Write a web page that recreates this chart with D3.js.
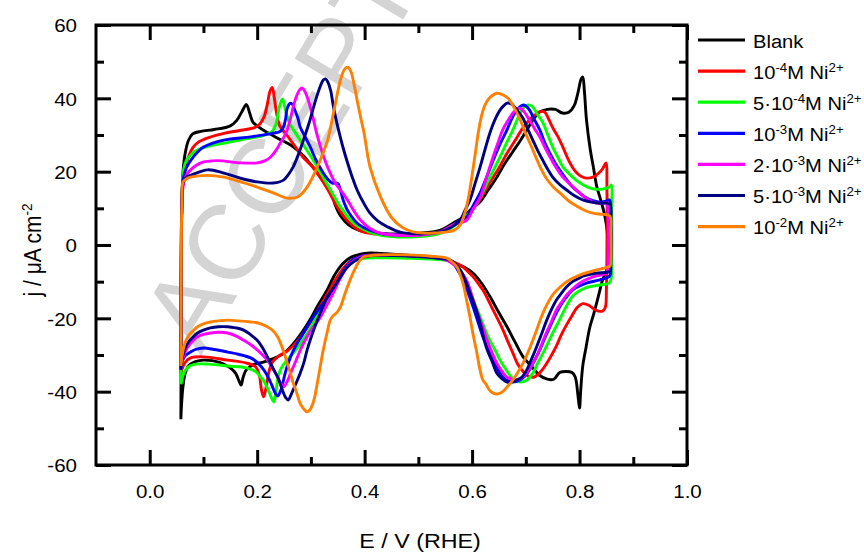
<!DOCTYPE html>
<html>
<head>
<meta charset="utf-8">
<script src="https://cdn.jsdelivr.net/npm/d3@7/dist/d3.min.js"></script>
<style>
  html, body { margin: 0; padding: 0; background: #fff; }
  svg { display: block; }
  text { font-family: "Liberation Sans", Arial, sans-serif; fill: #000; }
</style>
</head>
<body>
<svg id="chart" width="864" height="553"></svg>
<script>
// Cyclic voltammograms, [E (V vs RHE), j (µA cm^-2)], one closed loop per curve:
// anodic sweep 0.06 -> 0.86 V, then cathodic sweep back to 0.06 V.
const blank = [[0.058,-47.5],[0.0585,-25],[0.059,0],[0.060,12],[0.062,20],[0.066,25],[0.072,28.5],[0.08,30.3],[0.095,31],[0.12,31.5],[0.15,32.5],[0.162,34],[0.172,36.5],[0.180,38.3],[0.186,36],[0.192,33.5],[0.20,32.5],[0.215,31],[0.24,29],[0.265,27],[0.285,24.5],[0.305,21],[0.325,17],[0.338,14.5],[0.345,11],[0.355,8],[0.37,5.5],[0.39,4],[0.42,3.2],[0.46,3],[0.50,3.2],[0.54,4],[0.565,6],[0.583,7.6],[0.60,10],[0.615,11.8],[0.63,15],[0.646,18.5],[0.66,22],[0.676,25.5],[0.69,28.5],[0.702,31.4],[0.715,34.5],[0.726,36.3],[0.74,37],[0.755,37],[0.768,36],[0.78,36.2],[0.79,38],[0.797,41.5],[0.803,45.3],[0.806,45.8],[0.809,42],[0.813,34],[0.82,26],[0.826,21],[0.832,16],[0.84,12],[0.847,8],[0.852,3],[0.854,-3],[0.85,-7],[0.843,-9.5],[0.835,-14],[0.826,-19],[0.819,-22.5],[0.812,-28],[0.806,-33],[0.802,-40],[0.80,-44.5],[0.797,-41],[0.792,-36],[0.786,-34.8],[0.775,-34.5],[0.763,-34.8],[0.752,-36.6],[0.74,-36.6],[0.726,-35.6],[0.71,-33],[0.695,-30.5],[0.68,-26.5],[0.665,-22.3],[0.65,-18.5],[0.633,-14],[0.618,-10.5],[0.602,-7.7],[0.585,-6],[0.572,-5.3],[0.55,-4],[0.52,-3.3],[0.48,-2.8],[0.44,-2.4],[0.41,-2.2],[0.39,-2.6],[0.375,-3.3],[0.36,-5],[0.345,-8],[0.33,-12.3],[0.313,-16.5],[0.30,-20],[0.285,-23.5],[0.267,-27],[0.25,-29.5],[0.23,-31],[0.21,-32],[0.195,-32.5],[0.18,-34],[0.174,-36],[0.170,-38.2],[0.166,-37],[0.16,-35],[0.15,-33.5],[0.13,-32],[0.10,-31.4],[0.085,-31.8],[0.073,-32.8],[0.066,-35],[0.062,-38.5],[0.059,-44],[0.058,-47.5]];

const ni1e4 = [[0.058,-35],[0.0585,-10],[0.059,5],[0.060,13],[0.062,17.5],[0.066,21],[0.072,24],[0.08,26.5],[0.09,28],[0.11,29.3],[0.14,30.5],[0.17,31.3],[0.195,32],[0.205,33],[0.213,35],[0.219,38.5],[0.224,42],[0.228,43],[0.232,40],[0.236,36],[0.242,32.5],[0.255,30],[0.27,27],[0.285,24],[0.305,21],[0.33,15.5],[0.349,10.4],[0.367,6.8],[0.39,4],[0.42,3],[0.46,2.7],[0.50,2.9],[0.54,3.6],[0.565,5.5],[0.58,7],[0.596,8.7],[0.615,12.5],[0.633,17],[0.65,21],[0.665,25],[0.68,28.5],[0.695,32],[0.713,35],[0.726,36.3],[0.735,36.3],[0.742,34.5],[0.750,32],[0.76,29.5],[0.769,26.7],[0.78,23],[0.79,20.5],[0.80,19],[0.81,18.3],[0.825,18.5],[0.835,19.5],[0.843,20.8],[0.849,22.4],[0.851,15],[0.851,0],[0.850,-12],[0.848,-17],[0.843,-18],[0.83,-17.8],[0.818,-16.5],[0.806,-16],[0.796,-17],[0.785,-19.5],[0.775,-22],[0.766,-24.5],[0.757,-27.5],[0.748,-30],[0.738,-32.5],[0.728,-34.5],[0.716,-36],[0.705,-35.8],[0.695,-34.5],[0.685,-32.5],[0.676,-29.5],[0.667,-26.5],[0.657,-23],[0.648,-20.3],[0.639,-17.7],[0.63,-15],[0.62,-12.3],[0.61,-10.2],[0.602,-8.7],[0.592,-7.2],[0.583,-6],[0.565,-4.6],[0.54,-3.7],[0.50,-3.1],[0.46,-2.8],[0.42,-2.7],[0.40,-2.9],[0.38,-3.8],[0.365,-5.5],[0.35,-8.5],[0.336,-12],[0.32,-16],[0.305,-19.8],[0.29,-23.2],[0.272,-26.7],[0.255,-29],[0.24,-30.3],[0.228,-32],[0.222,-34.5],[0.217,-38.5],[0.212,-41.4],[0.208,-39.5],[0.204,-35.5],[0.197,-33.2],[0.18,-32.2],[0.145,-31.4],[0.10,-30.5],[0.076,-30.8],[0.066,-32],[0.061,-33.5],[0.058,-35]];

const ni5e4 = [[0.058,-38],[0.0585,-15],[0.059,2],[0.060,12],[0.063,20.5],[0.068,23],[0.076,24.5],[0.09,26],[0.12,27.3],[0.14,27.8],[0.17,28.7],[0.19,29.2],[0.215,30],[0.228,31],[0.235,33],[0.24,36.8],[0.244,39],[0.247,39.8],[0.25,38.5],[0.254,36],[0.26,33.3],[0.28,28.6],[0.305,23],[0.331,16.4],[0.355,10.4],[0.38,6],[0.416,3.2],[0.45,2.3],[0.50,2.3],[0.54,3.2],[0.57,5.5],[0.59,8],[0.605,10.5],[0.617,13.5],[0.628,17],[0.64,20.5],[0.652,24],[0.664,27.8],[0.676,31.4],[0.688,35.5],[0.697,37.6],[0.704,38.2],[0.712,37.8],[0.72,36],[0.732,33.3],[0.741,30],[0.75,26.7],[0.76,23.8],[0.769,21.3],[0.785,18.8],[0.80,17],[0.815,15.8],[0.83,15.2],[0.845,15.3],[0.855,15.8],[0.859,16.4],[0.860,10],[0.860,-5],[0.859,-9],[0.855,-10.4],[0.838,-10.9],[0.815,-11.5],[0.80,-12.5],[0.787,-14],[0.778,-16],[0.769,-18.5],[0.76,-21.2],[0.75,-24],[0.741,-26.8],[0.732,-29.5],[0.722,-32.3],[0.713,-35],[0.702,-36.8],[0.69,-37.4],[0.678,-36.8],[0.67,-35.5],[0.661,-33.5],[0.652,-31.4],[0.643,-28.7],[0.633,-26],[0.624,-23],[0.615,-19.6],[0.605,-16],[0.596,-12.3],[0.587,-9.3],[0.578,-6.8],[0.568,-5.2],[0.559,-4.4],[0.53,-3.9],[0.48,-3.6],[0.44,-3.5],[0.40,-3.6],[0.38,-4.3],[0.37,-5.5],[0.355,-8.5],[0.342,-12],[0.327,-15.5],[0.313,-19],[0.30,-22.5],[0.285,-26],[0.27,-29],[0.255,-31.5],[0.245,-33.5],[0.239,-36],[0.235,-40],[0.231,-42.8],[0.226,-41.5],[0.219,-39],[0.212,-37],[0.206,-36],[0.198,-34.6],[0.18,-33.5],[0.145,-33],[0.11,-32.5],[0.085,-32.5],[0.072,-33.2],[0.065,-34.5],[0.061,-36],[0.058,-38]];

const ni1e3 = [[0.058,-33],[0.0585,-10],[0.059,5],[0.060,12],[0.062,17.7],[0.068,21],[0.076,23],[0.09,25.5],[0.10,26.7],[0.138,28.6],[0.188,29.5],[0.23,30.5],[0.243,31],[0.249,32.2],[0.253,34.5],[0.255,36.8],[0.259,38.3],[0.262,38.7],[0.266,38.3],[0.27,36.8],[0.276,34.5],[0.28,32.2],[0.29,29.3],[0.299,26.7],[0.31,23],[0.331,18],[0.34,16.9],[0.35,16.8],[0.355,15],[0.36,12.3],[0.37,9],[0.39,5.5],[0.429,3.2],[0.47,2.7],[0.51,2.9],[0.54,3.6],[0.565,5.5],[0.58,7],[0.59,7.6],[0.603,11],[0.615,14.2],[0.627,18.5],[0.639,23],[0.652,27.5],[0.665,31.4],[0.674,34.5],[0.683,36.8],[0.69,37.8],[0.695,38.2],[0.70,37.9],[0.707,36.8],[0.716,34.2],[0.726,31.4],[0.735,28],[0.745,25],[0.754,22.5],[0.763,20.5],[0.775,18],[0.787,15.8],[0.80,14.2],[0.813,12.8],[0.825,12.1],[0.838,11.7],[0.85,12],[0.856,12.3],[0.858,8],[0.858,-5],[0.857,-8.2],[0.853,-8.8],[0.838,-9.5],[0.813,-10.4],[0.80,-11.2],[0.787,-12.3],[0.775,-14.3],[0.763,-16.9],[0.754,-19.4],[0.745,-22.3],[0.735,-25.5],[0.726,-28.6],[0.716,-31.5],[0.707,-34],[0.698,-35.8],[0.689,-36.8],[0.676,-37.4],[0.666,-37],[0.657,-36],[0.648,-34],[0.639,-31.4],[0.63,-28.5],[0.62,-25],[0.611,-21],[0.602,-16.9],[0.592,-12.8],[0.583,-9.5],[0.574,-7],[0.565,-5],[0.55,-3.8],[0.50,-3],[0.45,-2.8],[0.40,-2.9],[0.38,-3.8],[0.368,-5.5],[0.355,-8.5],[0.342,-12.3],[0.33,-14.5],[0.318,-16.9],[0.305,-19.5],[0.293,-22.3],[0.283,-24.8],[0.275,-26.7],[0.265,-29.5],[0.258,-32.2],[0.252,-35],[0.248,-37.5],[0.243,-40],[0.238,-41.2],[0.233,-40.2],[0.228,-38.5],[0.222,-36.5],[0.212,-34],[0.20,-32],[0.188,-30.8],[0.165,-29.8],[0.145,-29.2],[0.12,-28.5],[0.10,-28.1],[0.085,-28.5],[0.076,-29.2],[0.066,-30.2],[0.061,-31.5],[0.058,-33]];

const ni2e3 = [[0.058,-34],[0.0585,-10],[0.059,5],[0.060,11],[0.062,15.8],[0.068,19],[0.076,20.5],[0.095,22.4],[0.126,23],[0.169,22.4],[0.20,22.4],[0.215,23],[0.225,24],[0.235,25.8],[0.243,27.8],[0.25,29.5],[0.256,31.4],[0.262,34.5],[0.267,37.6],[0.273,40.5],[0.279,42.3],[0.284,42.8],[0.29,41.5],[0.295,39.5],[0.30,37],[0.305,34],[0.311,30.3],[0.318,26.7],[0.327,22.8],[0.336,19.6],[0.345,17],[0.355,15],[0.361,13.8],[0.368,12.3],[0.38,9.3],[0.392,6.8],[0.41,4.5],[0.429,3.2],[0.47,2.6],[0.51,2.8],[0.54,3.6],[0.565,5.5],[0.59,6.8],[0.602,9.8],[0.615,13],[0.627,18.5],[0.639,24],[0.648,27.8],[0.657,31.4],[0.667,34],[0.676,36],[0.683,37],[0.689,37.3],[0.697,36.3],[0.707,34],[0.716,31.8],[0.726,29.5],[0.735,26.8],[0.745,24],[0.757,21],[0.769,18.5],[0.785,16.2],[0.80,14.2],[0.812,12.8],[0.825,11.7],[0.84,11.3],[0.85,11.4],[0.853,8],[0.853,-4],[0.852,-7],[0.85,-7.7],[0.825,-8.7],[0.80,-10.4],[0.787,-12],[0.776,-13.6],[0.767,-15.5],[0.757,-17.7],[0.748,-20.8],[0.738,-24],[0.729,-27.3],[0.72,-30.5],[0.71,-33],[0.701,-35],[0.692,-36.3],[0.683,-36.8],[0.673,-36.5],[0.664,-36],[0.655,-34.3],[0.646,-32.2],[0.637,-29.3],[0.628,-26],[0.62,-22.5],[0.61,-18.5],[0.601,-14.5],[0.592,-10.4],[0.583,-8],[0.571,-6],[0.55,-4],[0.50,-3.1],[0.45,-2.9],[0.40,-3],[0.385,-3.8],[0.37,-5.5],[0.355,-9],[0.342,-13],[0.33,-16.3],[0.318,-19.6],[0.305,-22.3],[0.293,-25],[0.283,-27.8],[0.275,-30.5],[0.268,-33],[0.262,-35],[0.256,-37.2],[0.249,-38.7],[0.243,-37.5],[0.238,-36],[0.228,-33.5],[0.219,-31.4],[0.21,-30],[0.20,-28.6],[0.188,-27.2],[0.175,-26],[0.16,-24.8],[0.145,-24],[0.128,-23.8],[0.113,-24],[0.10,-24.4],[0.089,-25],[0.08,-26.2],[0.071,-27.8],[0.065,-29.5],[0.061,-31.4],[0.058,-34]];

const ni5e3 = [[0.058,-34],[0.0585,-10],[0.059,5],[0.060,11],[0.062,16.9],[0.068,18.5],[0.076,19],[0.108,20.5],[0.138,19.6],[0.169,18.2],[0.20,17.2],[0.23,16.9],[0.249,17.7],[0.258,19.2],[0.267,21.3],[0.277,24.8],[0.286,28.6],[0.296,33],[0.305,37.6],[0.312,41],[0.318,43.5],[0.323,45],[0.327,45.3],[0.332,44.3],[0.337,42],[0.341,38.5],[0.345,35.5],[0.35,32.2],[0.359,27],[0.368,22.5],[0.377,18.5],[0.386,15],[0.398,11.5],[0.41,8.7],[0.425,6.5],[0.442,5],[0.466,3.5],[0.50,3],[0.53,3.3],[0.55,4],[0.568,5.5],[0.578,6.8],[0.587,9.5],[0.596,12.3],[0.605,16.5],[0.615,21.3],[0.624,26],[0.633,30.5],[0.642,34],[0.652,36.8],[0.659,38],[0.665,38.7],[0.673,38.5],[0.68,37.5],[0.688,36],[0.695,34.5],[0.704,31.5],[0.713,28.6],[0.722,25.8],[0.732,23],[0.741,20.6],[0.75,18.5],[0.763,16.5],[0.776,15],[0.79,13.5],[0.806,12.3],[0.822,11.7],[0.838,11.4],[0.852,11.4],[0.857,11],[0.858,5],[0.858,-5],[0.857,-7],[0.853,-7.4],[0.83,-7.7],[0.806,-8.5],[0.80,-9],[0.787,-10],[0.776,-11.4],[0.766,-13.2],[0.757,-15],[0.748,-17.5],[0.739,-20.5],[0.73,-24],[0.72,-27.8],[0.711,-31],[0.702,-34],[0.693,-36],[0.683,-36.8],[0.675,-37.3],[0.665,-37.4],[0.656,-36.5],[0.646,-35],[0.638,-32],[0.628,-28.6],[0.621,-25],[0.615,-21.3],[0.606,-17],[0.596,-13],[0.587,-9.5],[0.578,-6.8],[0.568,-5],[0.559,-4.1],[0.53,-3.5],[0.48,-3],[0.43,-2.8],[0.40,-3.2],[0.38,-4.5],[0.365,-6.5],[0.355,-8.7],[0.343,-11.5],[0.331,-14],[0.322,-17],[0.312,-20.5],[0.302,-24.5],[0.293,-28.6],[0.287,-32],[0.28,-35],[0.273,-37.5],[0.267,-39.5],[0.262,-41.2],[0.258,-42.3],[0.253,-41.6],[0.249,-40.4],[0.244,-38.3],[0.238,-36],[0.228,-33.2],[0.219,-30.5],[0.21,-28],[0.20,-26],[0.188,-24.5],[0.175,-23.2],[0.16,-22.6],[0.145,-22.3],[0.128,-22.3],[0.113,-22.6],[0.10,-23.2],[0.089,-24],[0.08,-25.2],[0.071,-26.7],[0.065,-28.5],[0.061,-30.5],[0.058,-34]];

const ni1e2 = [[0.058,-33],[0.0585,-10],[0.059,5],[0.060,11],[0.062,17.2],[0.068,18],[0.076,18.5],[0.108,19],[0.138,18.5],[0.169,17.2],[0.20,15.8],[0.23,14.2],[0.256,12.8],[0.275,13.1],[0.293,15.8],[0.312,21.3],[0.331,28.6],[0.342,36],[0.355,45],[0.362,47.8],[0.368,48.5],[0.374,47.5],[0.38,44],[0.386,39.5],[0.393,34.5],[0.399,30.5],[0.41,21.3],[0.43,13],[0.45,7.5],[0.47,4.8],[0.49,3.6],[0.52,3.2],[0.55,3.5],[0.566,4],[0.578,5.5],[0.587,9],[0.594,13.5],[0.60,19],[0.606,25],[0.612,31],[0.618,35.5],[0.625,38.5],[0.633,40.2],[0.646,41.4],[0.658,40.9],[0.667,40],[0.68,37],[0.69,34],[0.70,30.3],[0.71,27],[0.72,23.5],[0.73,20.3],[0.74,17.8],[0.752,15.7],[0.765,14],[0.78,12],[0.795,10.6],[0.81,9.4],[0.825,8.7],[0.84,8.4],[0.852,8.2],[0.857,7.8],[0.858,4],[0.858,-4],[0.857,-5.7],[0.853,-6],[0.832,-6.8],[0.80,-8.2],[0.776,-10],[0.763,-11.6],[0.75,-13.6],[0.741,-15.8],[0.732,-18.5],[0.723,-22],[0.713,-26],[0.704,-29.3],[0.695,-32.2],[0.685,-34.8],[0.676,-36.8],[0.666,-38.6],[0.657,-40],[0.648,-40.6],[0.639,-40.4],[0.632,-39.5],[0.626,-38],[0.62,-36.8],[0.614,-33.5],[0.609,-29.5],[0.602,-24.5],[0.596,-19.6],[0.589,-14.5],[0.583,-10.4],[0.577,-7.8],[0.572,-6],[0.562,-4.5],[0.553,-3.6],[0.52,-3],[0.48,-2.7],[0.43,-2.7],[0.40,-3.2],[0.392,-4],[0.382,-6.5],[0.373,-9.5],[0.364,-13],[0.355,-16.9],[0.349,-18.3],[0.342,-19.2],[0.336,-20.5],[0.33,-24],[0.323,-28.6],[0.317,-33.5],[0.312,-37.6],[0.307,-41.5],[0.303,-43.5],[0.298,-45],[0.293,-45.5],[0.287,-44.8],[0.28,-43.2],[0.274,-40.5],[0.267,-37.6],[0.262,-35],[0.256,-32.2],[0.248,-28.5],[0.238,-25],[0.229,-23.3],[0.219,-22.3],[0.20,-21.2],[0.188,-21],[0.165,-20.7],[0.145,-20.5],[0.128,-20.7],[0.113,-21],[0.10,-21.5],[0.089,-22.3],[0.08,-23.5],[0.071,-25],[0.065,-27],[0.061,-29.5],[0.058,-33]];

const curves = [blank, ni1e4, ni5e4, ni1e3, ni2e3, ni5e3, ni1e2];
const legendLabels = ["Blank", "10^{-4}M Ni^{2+}", "5·10^{-4}M Ni^{2+}", "10^{-3}M Ni^{2+}",
                      "2·10^{-3}M Ni^{2+}", "5·10^{-3}M Ni^{2+}", "10^{-2}M Ni^{2+}"];
const curveColors = ["#000000", "#ff0000", "#00ff00", "#0000ff", "#ff00ff", "#000080", "#ff8000"];

const xMajorTicks = [0.0, 0.2, 0.4, 0.6, 0.8, 1.0];
const xMinorTicks = [0.1, 0.3, 0.5, 0.7, 0.9];
const yMajorTicks = [-60, -40, -20, 0, 20, 40, 60];
const yMinorTicks = [-50, -30, -10, 10, 30, 50];

// ---- layout ----
const W = 864, H = 553;
const plot = { left: 96, right: 687, top: 25, bottom: 465 };
const SX = 1.11;            // glyphs are drawn slightly wide
const svg = d3.select("#chart");

const x = d3.scaleLinear().domain([-0.1, 1.0]).range([plot.left, plot.right]);
const y = d3.scaleLinear().domain([-60, 60]).range([plot.bottom, plot.top]);

svg.append("rect").attr("width", W).attr("height", H).attr("fill", "#fff");

// faint diagonal stamp behind the data
svg.append("text")
  .attr("transform", "translate(201,356) rotate(-59)")
  .attr("font-size", 106)
  .style("fill", "#d4d4d4")
  .text("ACCEPTED MANUSCRIPT");

// ---- curves ----
const line = d3.line()
  .x(d => x(d[0]))
  .y(d => y(d[1]))
  .curve(d3.curveCatmullRom.alpha(0.5));

svg.append("g").selectAll("path")
  .data(curves)
  .join("path")
  .attr("d", d => line(d))
  .attr("fill", "none")
  .attr("stroke", (d, i) => curveColors[i])
  .attr("stroke-width", 2.9)
  .attr("stroke-linejoin", "round");

// ---- axes (ticks point inward on all four sides) ----
const hyphenMinus = f => v => f(v).replace("\u2212", "-");
function styleAxis(g) {
  g.select(".domain").remove();
  g.selectAll(".tick line").attr("stroke", "#000").attr("stroke-width", 3);
  g.selectAll(".tick text").attr("font-size", 18.5).attr("fill", "#000")
    .attr("font-family", '"Liberation Sans", Arial, sans-serif');
}
const MAJ = 15, MIN = 8;

svg.append("g").attr("transform", `translate(0,${plot.bottom})`)
  .call(d3.axisBottom(x).tickValues(xMajorTicks).tickSize(-MAJ).tickPadding(20).tickFormat(d3.format(".1f")))
  .call(styleAxis)
  .call(g => g.selectAll(".tick text").attr("transform", `scale(${SX},1)`));
svg.append("g").attr("transform", `translate(0,${plot.bottom})`)
  .call(d3.axisBottom(x).tickValues(xMinorTicks).tickSize(-MIN).tickFormat(""))
  .call(styleAxis);

svg.append("g").attr("transform", `translate(0,${plot.top})`)
  .call(d3.axisTop(x).tickValues(xMajorTicks).tickSize(-MAJ).tickFormat(""))
  .call(styleAxis);
svg.append("g").attr("transform", `translate(0,${plot.top})`)
  .call(d3.axisTop(x).tickValues(xMinorTicks).tickSize(-MIN).tickFormat(""))
  .call(styleAxis);

svg.append("g").attr("transform", `translate(${plot.left},0)`)
  .call(d3.axisLeft(y).tickValues(yMajorTicks).tickSize(-MAJ).tickFormat(hyphenMinus(d3.format("d"))))
  .call(styleAxis)
  .call(g => g.selectAll(".tick text")
    .attr("x", -19 / SX).attr("dy", "0.36em")
    .attr("transform", `scale(${SX},1)`));
svg.append("g").attr("transform", `translate(${plot.left},0)`)
  .call(d3.axisLeft(y).tickValues(yMinorTicks).tickSize(-MIN).tickFormat(""))
  .call(styleAxis);

svg.append("g").attr("transform", `translate(${plot.right},0)`)
  .call(d3.axisRight(y).tickValues(yMajorTicks).tickSize(-MAJ).tickFormat(""))
  .call(styleAxis);
svg.append("g").attr("transform", `translate(${plot.right},0)`)
  .call(d3.axisRight(y).tickValues(yMinorTicks).tickSize(-MIN).tickFormat(""))
  .call(styleAxis);

// frame
svg.append("rect")
  .attr("x", plot.left).attr("y", plot.top)
  .attr("width", plot.right - plot.left).attr("height", plot.bottom - plot.top)
  .attr("fill", "none").attr("stroke", "#000").attr("stroke-width", 3);

// ---- rich text helper: "a^{b}c" -> superscript tspans ----
function richText(sel, str, size, supSize, supShift) {
  const parts = str.split(/\^\{([^}]*)\}/);
  let raised = false;
  parts.forEach((p, k) => {
    if (p === "") { return; }
    const isSup = k % 2 === 1;
    const t = sel.append("tspan").text(p).attr("font-size", isSup ? supSize : size);
    if (isSup && !raised) { t.attr("dy", -supShift); raised = true; }
    else if (!isSup && raised) { t.attr("dy", supShift); raised = false; }
  });
}

// ---- axis titles ----
svg.append("text")
  .attr("transform", `translate(420,548) scale(${SX},1)`)
  .attr("text-anchor", "middle")
  .attr("font-size", 21)
  .text("E / V (RHE)");

const yTitle = svg.append("text")
  .attr("transform", `translate(41,250) rotate(-90) scale(1,${SX})`)
  .attr("text-anchor", "middle")
  .attr("font-size", 21);
richText(yTitle, "j / μA cm^{-2}", 21, 13.5, 8);

// ---- legend ----
const LSX = 1.06;
const legend = svg.append("g");
legendLabels.forEach((lab, i) => {
  const cy = 40 + i * 31.1;
  legend.append("line")
    .attr("x1", 698).attr("x2", 745).attr("y1", cy).attr("y2", cy)
    .attr("stroke", curveColors[i]).attr("stroke-width", 3.2);
  const t = legend.append("text")
    .attr("transform", `translate(753,${cy + 7.5}) scale(${LSX},1)`)
    .attr("font-size", 19);
  richText(t, lab, 19, 12.5, 7);
});
</script>
</body>
</html>
